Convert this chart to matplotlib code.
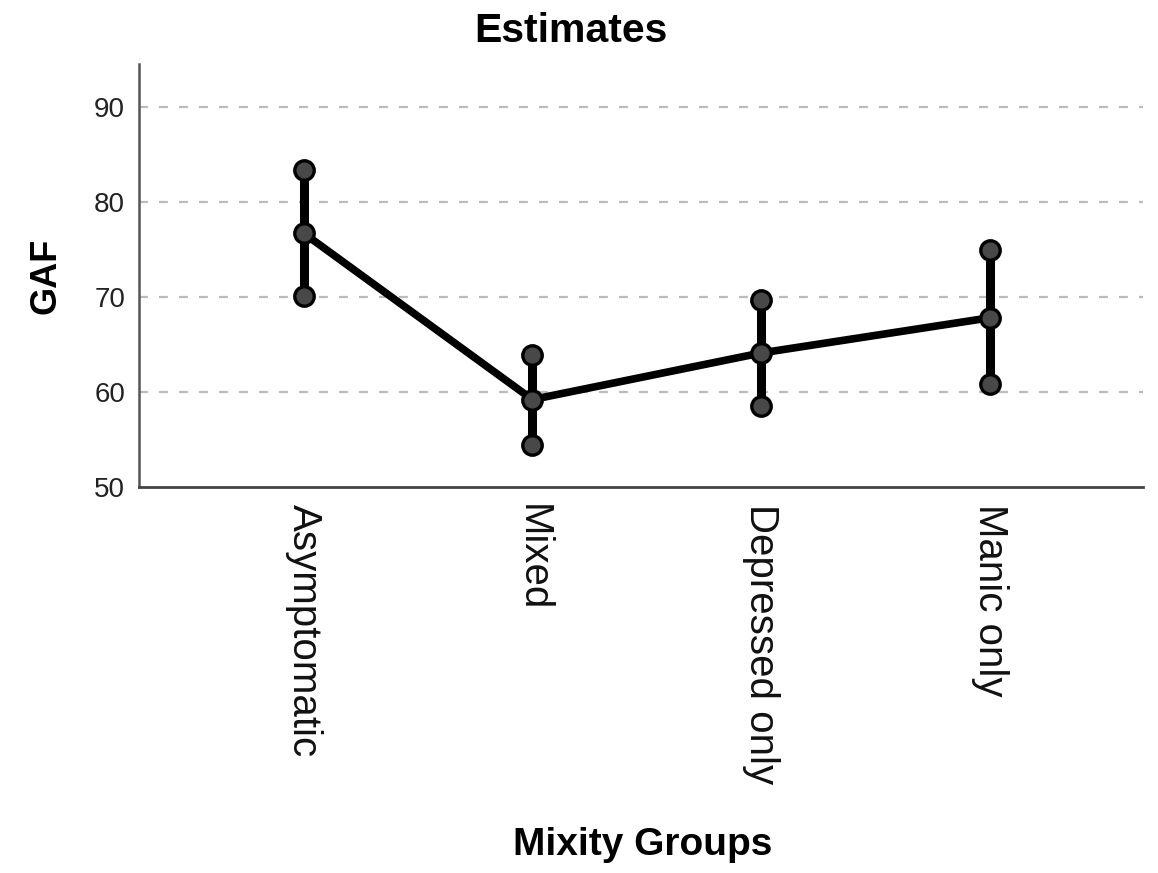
import matplotlib
matplotlib.use("Agg")
import matplotlib.pyplot as plt
import numpy as np

plt.rcParams['font.family'] = ['Liberation Sans', 'DejaVu Sans']

categories = ["Asymptomatic", "Mixed", "Depressed only", "Manic only"]
means = [76.7, 59.2, 64.1, 67.8]
upper = [83.4, 63.9, 69.7, 74.9]
lower = [70.1, 54.4, 58.5, 60.8]
yticks = [50, 60, 70, 80, 90]

fig = plt.figure(figsize=(11.58, 8.73), dpi=100)
ax = fig.add_axes([139/1158, 1 - 487/873, (1143-139)/1158, (487-64)/873])

x = np.arange(len(categories))
for xi, lo, hi in zip(x, lower, upper):
    ax.plot([xi, xi], [lo, hi], color='black', lw=6.5, solid_capstyle='butt', zorder=3)
ax.plot(x, means, color='black', lw=5.5, zorder=4)
for vals in (upper, lower, means):
    ax.plot(x, vals, 'o', ms=14, mfc='#484848', mec='black', mew=2.4, zorder=5, ls='none')

ax.set_ylim(50, 94.5)
ax.set_xlim(-0.72, 3.67)
ax.set_yticks(yticks)
ax.set_yticklabels([str(t) for t in yticks], fontsize=20, color='#222222')
ax.set_xticks(x)
ax.set_xticklabels(categories, rotation=270, fontsize=29, va='top', ha='center', color='#111111')
ax.tick_params(axis='both', length=0, pad=10)
ax.tick_params(axis='x', pad=12)

for yv in [60, 70, 80, 90]:
    ax.axhline(yv, color='#bbbbbb', lw=1.6, ls=(0, (4, 5)), zorder=1)

for s in ['top', 'right']:
    ax.spines[s].set_visible(False)
ax.spines['left'].set_color('#555555')
ax.spines['left'].set_linewidth(1.8)
ax.spines['bottom'].set_color('#444444')
ax.spines['bottom'].set_linewidth(2)

ax.set_ylabel("GAF", fontsize=26, fontweight='bold', labelpad=22)
fig.text(643/1158, 1 - 845/873, "Mixity Groups", fontsize=28, fontweight='bold', ha='center', va='center')
fig.text(571/1158, 1 - 31/873, "Estimates", fontsize=29.5, fontweight='bold', ha='center', va='center')

fig.savefig("out.png", dpi=100)
